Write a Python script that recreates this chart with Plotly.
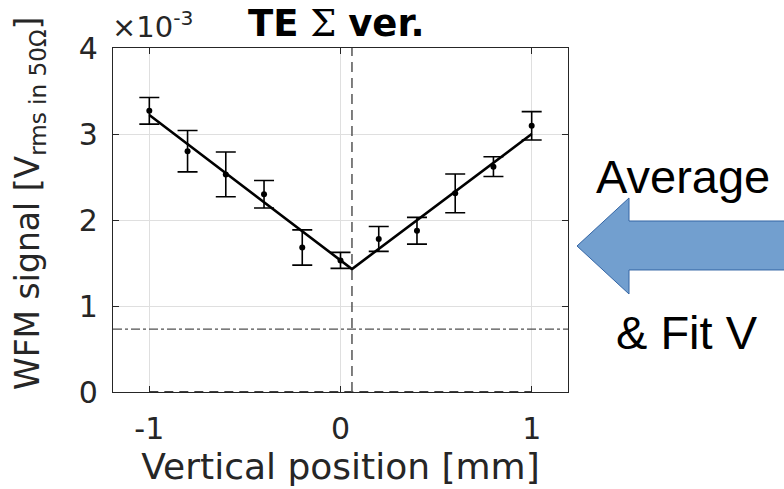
import plotly.graph_objects as go

# Measured WFM signal (units of 1e-3 V rms in 50 Ohm) vs vertical beam position
positions_mm = [-1.0, -0.8, -0.6, -0.4, -0.2, 0.0, 0.2, 0.4, 0.6, 0.8, 1.0]
signal_e3 = [3.27, 2.80, 2.53, 2.30, 1.68, 1.53, 1.78, 1.875, 2.31, 2.62, 3.095]
signal_err_e3 = [0.155, 0.24, 0.26, 0.16, 0.205, 0.093, 0.145, 0.155, 0.225, 0.115, 0.165]

# V-shaped fit: two linear branches meeting at the minimum
fit_x = [-1.0, 0.06, 1.0]
fit_y = [3.22, 1.43, 3.00]

# Reference levels
vertex_x = 0.06
noise_level = 0.73
zero_line_x = [-1.0, 1.0]
zero_line_y = [0.0, 0.0]

x_ticks = [-1, 0, 1]
x_tick_labels = ["-1", "0", "1"]
y_ticks = [0, 1, 2, 3, 4]
y_tick_labels = ["0", "1", "2", "3", "4"]

W, H = 784, 489
L, R, T, B = 113, 216, 48, 97
PW, PH = W - L - R, H - T - B

AX = "#262626"
GRID = "#dfdfdf"
FONT = "DejaVu Sans"


def px(xp):
    return (xp - L) / PW


def py(yp):
    return (H - B - yp) / PH


fig = go.Figure()

# zero baseline, dashed
fig.add_trace(go.Scatter(x=zero_line_x, y=zero_line_y, mode="lines",
                         line=dict(color="#404040", width=2.2, dash="9px,6px"),
                         hoverinfo="skip", showlegend=False, cliponaxis=False))

# noise floor, dash-dot
fig.add_hline(y=noise_level, line=dict(color="#505050", width=1.3, dash="dashdot"))

# fitted minimum position, dashed
fig.add_vline(x=vertex_x, line=dict(color="#555555", width=1.5, dash="10px,6px"))

# data with error bars
fig.add_trace(go.Scatter(
    x=positions_mm, y=signal_e3, mode="markers",
    marker=dict(color="black", size=6),
    error_y=dict(type="data", array=signal_err_e3, visible=True,
                 color="black", thickness=1.6, width=10),
    showlegend=False))

# V fit
fig.add_trace(go.Scatter(x=fit_x, y=fit_y, mode="lines",
                         line=dict(color="black", width=2.6),
                         showlegend=False))

axis_common = dict(
    showline=True, linecolor=AX, linewidth=1.2, mirror="ticks",
    ticks="inside", ticklen=6, tickwidth=1.2, tickcolor=AX,
    showgrid=True, gridcolor=GRID, gridwidth=1.2,
    zeroline=False,
    tickfont=dict(family=FONT, size=30, color=AX),
)

fig.update_xaxes(range=[-1.19, 1.19], tickvals=x_ticks, ticktext=x_tick_labels,
                 ticklabelstandoff=10,
                 title=dict(text="Vertical position [mm]",
                            font=dict(family=FONT, size=36, color=AX), standoff=6),
                 **axis_common)
fig.update_yaxes(range=[0, 4], tickvals=y_ticks, ticktext=y_tick_labels,
                 ticklabelstandoff=8,
                 **axis_common)

annotations = [
    # exponent label
    dict(text="×10<sup>-3</sup>", x=px(110), y=py(46), xref="paper", yref="paper",
         xanchor="left", yanchor="bottom", showarrow=False,
         font=dict(family=FONT, size=29, color=AX)),
    # title
    dict(text="<b>TE</b> <span style='font-family:DejaVu Serif;font-weight:normal'>Σ</span> <b>ver.</b>",
         x=px(336), y=py(0), xref="paper", yref="paper",
         xanchor="center", yanchor="top", showarrow=False,
         font=dict(family=FONT, size=37, color="black")),
    # y label
    dict(text="WFM signal [V<sub>rms in 50Ω</sub>]", textangle=-90,
         x=px(29), y=py(204), xref="paper", yref="paper",
         xanchor="center", yanchor="middle", showarrow=False,
         font=dict(family=FONT, size=33, color=AX)),
    # side notes
    dict(text="Average", x=px(683), y=py(176), xref="paper", yref="paper",
         xanchor="center", yanchor="middle", showarrow=False,
         font=dict(family="Liberation Sans", size=47, color="black")),
    dict(text="&amp; Fit V", x=px(687), y=py(332), xref="paper", yref="paper",
         xanchor="center", yanchor="middle", showarrow=False,
         font=dict(family="Liberation Sans", size=47, color="black")),
]

# block arrow pointing at the plot
arrow_pts = [(577, 246), (629, 198), (629, 221), (786, 221), (786, 270),
             (629, 270), (629, 294)]
path = "M " + " L ".join(f"{px(a):.4f},{py(b):.4f}" for a, b in arrow_pts) + " Z"
shapes = [dict(type="path", path=path, xref="paper", yref="paper",
               fillcolor="#729fcf", line=dict(color="#3465a4", width=1),
               layer="above")]

fig.update_layout(
    width=W, height=H,
    margin=dict(l=L, r=R, t=T, b=B),
    paper_bgcolor="white", plot_bgcolor="white",
    font=dict(family=FONT, color=AX),
    annotations=annotations, shapes=list(fig.layout.shapes) + shapes,
    showlegend=False,
)

fig.write_html("out.html")
